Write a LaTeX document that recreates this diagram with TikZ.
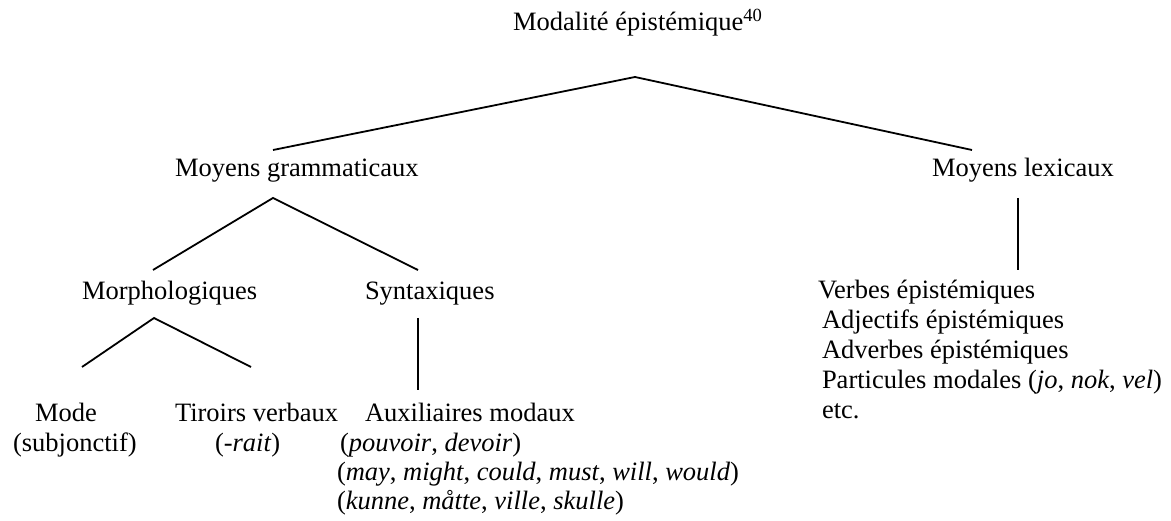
\documentclass[tikz,border=0pt]{standalone}
\usepackage{fontspec}
\setmainfont{Liberation Serif}
\begin{document}
\begin{tikzpicture}[x=1pt,y=-1pt,
  lbl/.style={anchor=base west,inner sep=0pt,outer sep=0pt,font=\fontsize{26.5}{30}\selectfont},
  branch/.style={line width=1.8pt,line cap=butt}]
\useasboundingbox (0,0) rectangle (1171,521);
% texts
\node[lbl] (title) at (513,31) {Modalité épistémique\textsuperscript{40}};
\node[lbl] (gram) at (175,177) {Moyens grammaticaux};
\node[lbl] (lex) at (932,177) {Moyens lexicaux};
\node[lbl] (morph) at (82,300) {Morphologiques};
\node[lbl] (synt) at (365,300) {Syntaxiques};
\node[lbl] (mode) at (35,422) {Mode};
\node[lbl] (subj) at (13,451) {(subjonctif)};
\node[lbl] (tir) at (175,422) {Tiroirs verbaux};
\node[lbl] (rait) at (215,451) {(-\textit{rait})};
\node[lbl] (aux) at (365,422) {Auxiliaires modaux};
\node[lbl] (aux1) at (340,451) {(\textit{pouvoir}, \textit{devoir})};
\node[lbl] (aux2) at (337,480) {(\textit{may}, \textit{might}, \textit{could}, \textit{must}, \textit{will}, \textit{would})};
\node[lbl] (aux3) at (337,509) {(\textit{kunne}, \textit{måtte}, \textit{ville}, \textit{skulle})};
\node[lbl] (verb) at (818,299) {Verbes épistémiques};
\node[lbl] (adj) at (822,329) {Adjectifs épistémiques};
\node[lbl] (adv) at (822,359) {Adverbes épistémiques};
\node[lbl] (part) at (822,389) {Particules modales (\textit{jo}, \textit{nok}, \textit{vel})};
\node[lbl] (etc) at (822,419) {etc.};
% branch points
\coordinate (topApex) at (635,77);
\coordinate (topL) at (273,150);
\coordinate (topR) at (972,150);
\coordinate (gramApex) at (273,198);
\coordinate (gramL) at (153,270);
\coordinate (gramR) at (418,270);
\coordinate (lexTop) at (1018,198);
\coordinate (lexBot) at (1018,270);
\coordinate (morphApex) at (154,318);
\coordinate (morphL) at (82,367);
\coordinate (morphR) at (251,367);
\coordinate (syntTop) at (418,318);
\coordinate (syntBot) at (418,390);
% connectors
\draw[branch] (topL) -- (topApex) -- (topR);
\draw[branch] (gramL) -- (gramApex) -- (gramR);
\draw[branch] (lexTop) -- (lexBot);
\draw[branch] (morphL) -- (morphApex) -- (morphR);
\draw[branch] (syntTop) -- (syntBot);
\end{tikzpicture}
\end{document}
